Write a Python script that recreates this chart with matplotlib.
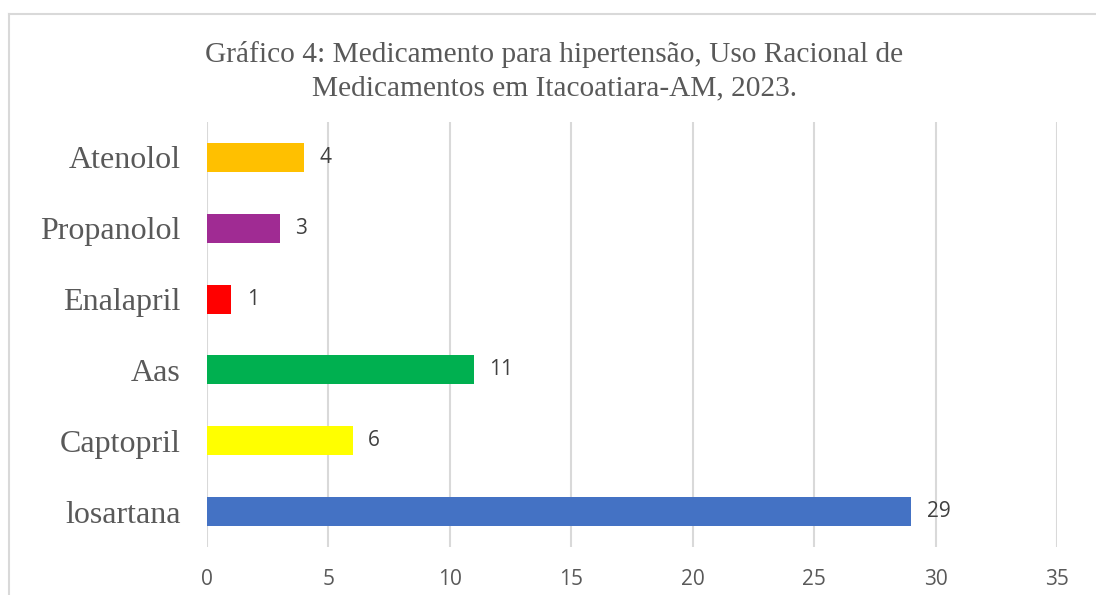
import matplotlib
matplotlib.use("Agg")
import matplotlib.pyplot as plt
from matplotlib.lines import Line2D

categories = ["losartana", "Captopril", "Aas", "Enalapril", "Propanolol", "Atenolol"]
values = [29, 6, 11, 1, 3, 4]
colors = ["#4472C4", "#FFFF00", "#00B050", "#FF0000", "#A02B93", "#FFC000"]
xticks = [0, 5, 10, 15, 20, 25, 30, 35]
title = "Gráfico 4: Medicamento para hipertensão, Uso Racional de\nMedicamentos em Itacoatiara-AM, 2023."

W, H = 1096, 595
fig = plt.figure(figsize=(W / 100, H / 100), dpi=100)
fig.patch.set_facecolor("white")

left, right, top, bottom = 207, 1057, 122, 547
ax = fig.add_axes([left / W, 1 - bottom / H, (right - left) / W, (bottom - top) / H])

y = list(range(len(categories)))
ax.barh(y, values, height=0.41, color=colors, zorder=3)
ax.set_xlim(0, 35)
ax.set_ylim(-0.5, len(categories) - 0.5)
ax.set_xticks(xticks)
ax.set_xticklabels([str(t) for t in xticks], fontfamily="Open Sans", fontsize=15, color="#595959")
ax.set_yticks(y)
ax.set_yticklabels(categories, fontfamily="Liberation Serif", fontsize=23, color="#595959")
ax.tick_params(axis="x", length=0, pad=16)
ax.tick_params(axis="y", length=0, pad=19)
ax.grid(axis="x", color="#D9D9D9", linewidth=1.5, zorder=0)
for s in ax.spines.values():
    s.set_visible(False)

for yi, v in zip(y, values):
    ax.annotate(str(v), (v, yi), xytext=(11, 0), textcoords="offset points",
                va="center", ha="left", fontfamily="Open Sans", fontsize=15, color="#404040")

fig.text(554 / W, 1 - 71 / H, title, ha="center", va="center", fontfamily="Liberation Serif",
         fontsize=21.2, color="#595959", linespacing=1.35)

# chart border (top and left visible)
fig.add_artist(Line2D([9 / W, 1.0], [1 - 14 / H, 1 - 14 / H], color="#D9D9D9", linewidth=1.5))
fig.add_artist(Line2D([9 / W, 9 / W], [0, 1 - 14 / H], color="#D9D9D9", linewidth=1.5))

fig.savefig("out.png", dpi=100, facecolor="white")
